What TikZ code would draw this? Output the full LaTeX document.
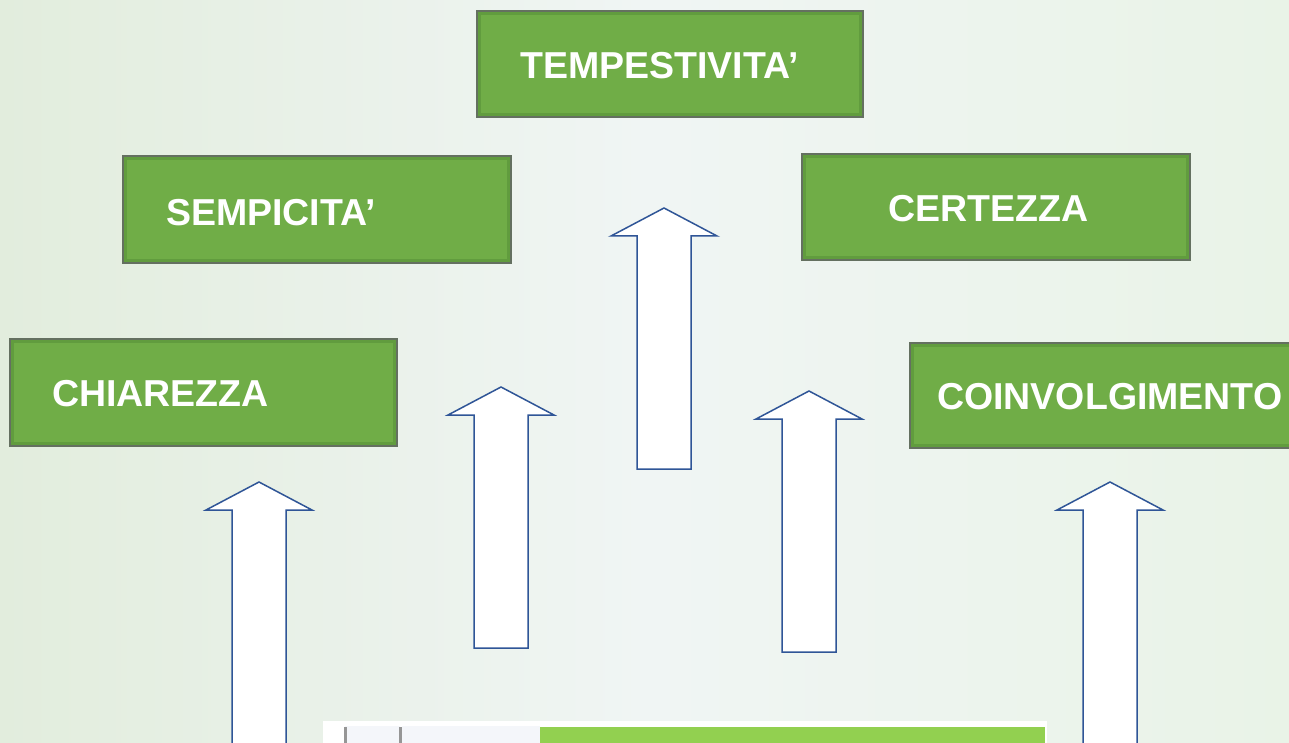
\documentclass[tikz,border=0pt]{standalone}
\usepackage{fontspec}
\setmainfont{Liberation Sans}
\usetikzlibrary{fit}
\definecolor{boxgreen}{RGB}{112,173,71}
\definecolor{boxedge}{RGB}{100,112,96}
\definecolor{boxinner}{RGB}{88,145,56}
\definecolor{arrblue}{RGB}{47,85,151}
\definecolor{bgL}{RGB}{226,237,221}
\definecolor{bgM}{RGB}{240,245,244}
\definecolor{bgR}{RGB}{233,243,231}
\definecolor{stripgreen}{RGB}{146,208,80}
\definecolor{stripgray}{RGB}{150,150,150}
\definecolor{striplight}{RGB}{244,246,250}
\tikzset{
  boxlabel/.style={anchor=west, inner sep=0pt, text=white,
    font=\bfseries\fontsize{37.5}{41}\selectfont},
  blockarr/.style={fill=white, draw=arrblue, line width=1.5pt, line join=miter},
}
\newcommand\myuparrow[3]{% tip x, tip y, bottom y
  \draw[blockarr] (#1,#2) -- (#1+53,#2+28) -- (#1+27,#2+28) -- (#1+27,#3)
    -- (#1-27,#3) -- (#1-27,#2+28) -- (#1-53,#2+28) -- cycle;}
\newcommand\mybox[5]{% name, x1,y1,x2,y2
  \fill[boxgreen] (#2,#3) rectangle (#4,#5);
  \draw[boxinner, line width=3pt, opacity=0.6] (#2+2.5,#3+2.5) rectangle (#4-2.5,#5-2.5);
  \node[draw=boxedge, line width=1.6pt, inner sep=0pt, fit={(#2,#3) (#4,#5)}] (#1) {};}
\begin{document}
\begin{tikzpicture}[x=1pt,y=-1pt]
\useasboundingbox (0,0) rectangle (1289,743);
% background
\shade[left color=bgL, right color=bgR, middle color=bgM] (0,0) rectangle (1289,743);
% boxes
\mybox{tempbox}{477}{11}{863}{117}
\mybox{sempbox}{123}{156}{511}{263}
\mybox{certbox}{802}{154}{1190}{260}
\mybox{chiabox}{10}{339}{397}{446}
\mybox{coinbox}{910}{343}{1298}{448}
\node[boxlabel] (t1) at (520,66) {TEMPESTIVITA’};
\node[boxlabel] (t2) at (166,213) {SEMPICITA’};
\node[boxlabel] (t3) at (888,209) {CERTEZZA};
\node[boxlabel] (t4) at (52,394) {CHIAREZZA};
\node[boxlabel] (t5) at (937,397) {COINVOLGIMENTO};
% arrows
\myuparrow{664}{208}{469}
\myuparrow{501}{387}{648}
\myuparrow{809}{391}{652}
\myuparrow{259}{482}{760}
\myuparrow{1110}{482}{760}
% bottom strip
\fill[white] (323,721) rectangle (1047,750);
\fill[striplight] (345,726) rectangle (400,750);
\draw[stripgray, line width=3pt] (345,727) -- (345,750);
\draw[stripgray, line width=3pt] (400,727) -- (400,750);
\fill[striplight] (402,726) rectangle (540,750);
\fill[stripgreen] (540,727) rectangle (1045,750);
\end{tikzpicture}
\end{document}
